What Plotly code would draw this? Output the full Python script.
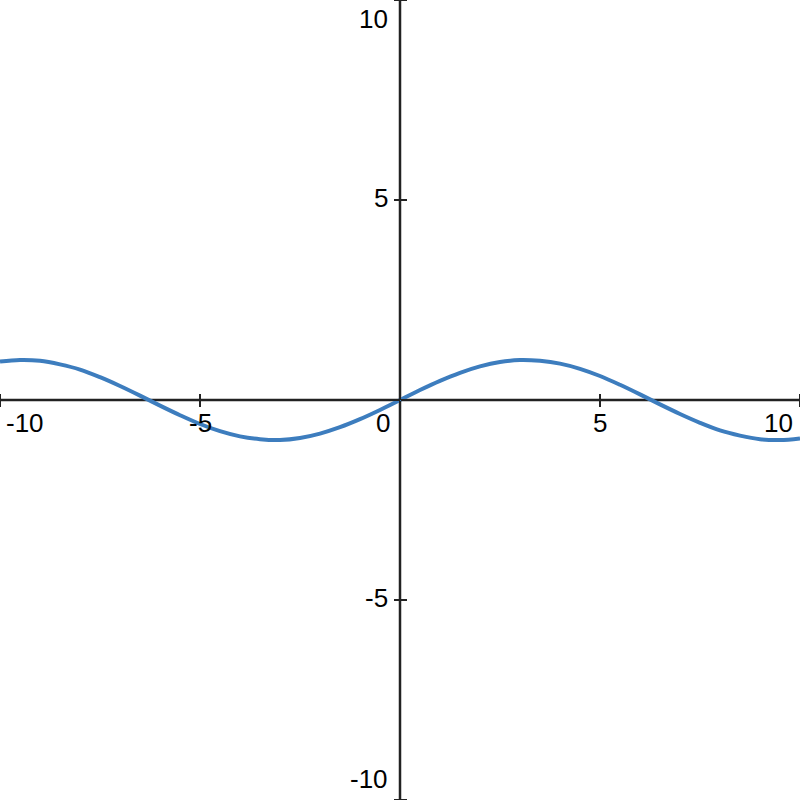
import plotly.graph_objects as go

# Curve values
x_vals = [-10, -9.5, -9, -8.5, -8, -7.5, -7, -6.5, -6, -5.5, -5, -4.5, -4, -3.5, -3, -2.5, -2, -1.5, -1, -0.5,
          0, 0.5, 1, 1.5, 2, 2.5, 3, 3.5, 4, 4.5, 5, 5.5, 6, 6.5, 7, 7.5, 8, 8.5, 9, 9.5, 10]
y_vals = [0.96, 1.0, 0.98, 0.89, 0.76, 0.57, 0.35, 0.11, -0.14, -0.38, -0.60, -0.78, -0.91, -0.98, -1.0, -0.95, -0.84, -0.68, -0.48, -0.25,
          0.0, 0.25, 0.48, 0.68, 0.84, 0.95, 1.0, 0.98, 0.91, 0.78, 0.60, 0.38, 0.14, -0.11, -0.35, -0.57, -0.76, -0.89, -0.98, -1.0, -0.96]

tick_vals = [-10, -5, 0, 5, 10]
tick_text = ["-10", "-5", "0", "5", "10"]

AXIS_COLOR = "#222222"
FONT = dict(family="Liberation Sans, Arial, sans-serif", size=26, color="#000000")

fig = go.Figure()
fig.add_trace(go.Scatter(x=x_vals, y=y_vals, mode="lines", line=dict(color="#3d7dbe", width=4, shape="spline"),
                         hoverinfo="skip", showlegend=False))
# dummy trace for the mirrored tick axes
fig.add_trace(go.Scatter(x=[None], y=[None], xaxis="x2", yaxis="y2", showlegend=False))

common = dict(range=[-10, 10], tickvals=tick_vals, showticklabels=False, showgrid=False, zeroline=False,
              showline=False, ticks="outside", ticklen=6, tickwidth=2, tickcolor=AXIS_COLOR,
              automargin=False, fixedrange=True)

fig.update_layout(
    width=800, height=800, margin=dict(l=0, r=0, t=0, b=0, pad=0), autosize=False,
    paper_bgcolor="white", plot_bgcolor="white",
    xaxis=dict(**common, anchor="free", position=0.5, side="bottom"),
    yaxis=dict(**common, anchor="free", position=0.5, side="left"),
    xaxis2=dict(**common, anchor="free", position=0.5, side="top", overlaying="x"),
    yaxis2=dict(**common, anchor="free", position=0.5, side="right", overlaying="y"),
    shapes=[
        dict(type="line", xref="x", yref="y", x0=-10, x1=10, y0=0, y1=0, line=dict(color=AXIS_COLOR, width=2.5), layer="below"),
        dict(type="line", xref="x", yref="y", x0=0, x1=0, y0=-10, y1=10, line=dict(color=AXIS_COLOR, width=2.5), layer="below"),
    ],
)

annotations = []
for v, t in zip(tick_vals, tick_text):
    # x tick labels
    if v == tick_vals[0]:
        xa, xs = "left", 4
    elif v == tick_vals[-1]:
        xa, xs = "right", -5
    elif v == 0:
        xa, xs = "right", -8
    else:
        xa, xs = "center", 0
    annotations.append(dict(x=v, y=0, xref="x", yref="y", text=t, showarrow=False, font=FONT,
                            xanchor=xa, yanchor="middle", xshift=xs, yshift=-23))
    if v == 0:
        continue
    # y tick labels
    if v == tick_vals[-1]:
        ya, ys = "top", -2
    elif v == tick_vals[0]:
        ya, ys = "bottom", 4
    else:
        ya, ys = "middle", 2
    annotations.append(dict(x=0, y=v, xref="x", yref="y", text=t, showarrow=False, font=FONT,
                            xanchor="right", yanchor=ya, xshift=-10, yshift=ys))
fig.update_layout(annotations=annotations)

fig.write_html("out.html", config=dict(displayModeBar=False),
               post_script="document.body.style.margin='0px';document.body.style.overflow='hidden';")
